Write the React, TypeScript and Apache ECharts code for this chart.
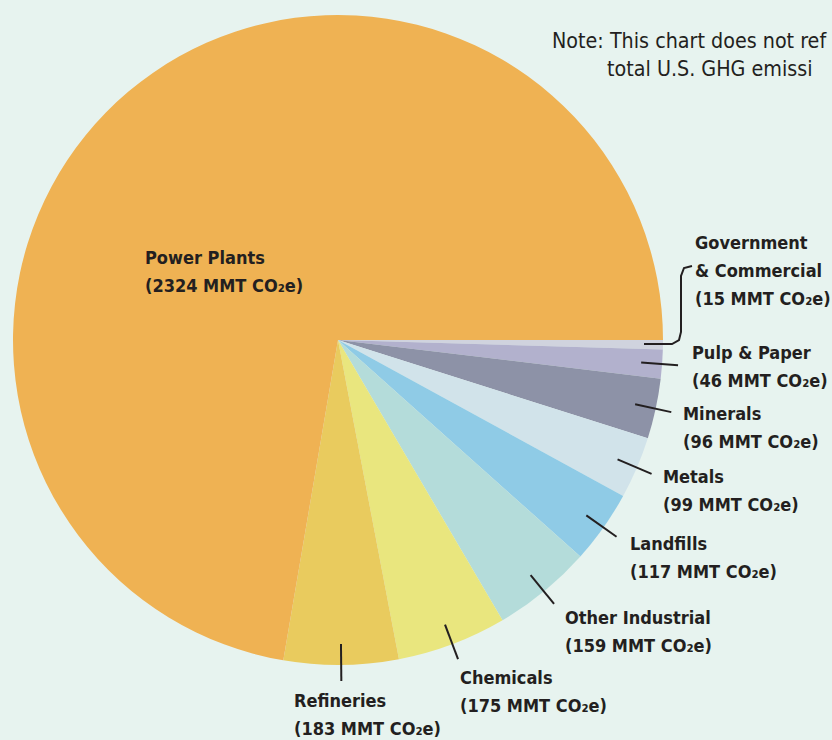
import React, { useEffect, useRef } from "react";
import * as echarts from "echarts";

const categories = [
  "Government\n& Commercial",
  "Pulp & Paper",
  "Minerals",
  "Metals",
  "Landfills",
  "Other Industrial",
  "Chemicals",
  "Refineries",
  "Power Plants",
];
const values = [15, 46, 96, 99, 117, 159, 175, 183, 2324];
const colors = [
  "#D0D3DE",
  "#B2B1CD",
  "#8D92A7",
  "#D1E3EA",
  "#8FCBE6",
  "#B4DCDA",
  "#E9E67E",
  "#E9CB5E",
  "#EFB253",
];
// the note is cut off at the right edge in the reference
const noteLines = ["Note: This chart does not ref", "total U.S. GHG emissi"];

// layout (positions only)
const CX = 338;
const CY = 340;
const R = 325;
const labelPos: [number, number][] = [
  [695, 228],
  [692, 338],
  [683, 399],
  [663, 462],
  [630, 529],
  [565, 603],
  [460, 663],
  [294, 686],
  [145, 243],
];

const FONT = "'DejaVu Sans Condensed', 'Liberation Sans Narrow', sans-serif";
const TEXT = "#231F20";

export default function App() {
  const ref = useRef<HTMLDivElement>(null);
  useEffect(() => {
    if (!ref.current) return;
    const chart = echarts.init(ref.current, null, { renderer: "svg" });
    const total = values.reduce((a, b) => a + b, 0);
    const mids: number[] = [];
    let acc = 0;
    values.forEach((v) => {
      mids.push(((acc + v / 2) / total) * Math.PI * 2);
      acc += v;
    });
    const pt = (a: number, r: number) => [CX + r * Math.cos(a), CY + r * Math.sin(a)];
    const base = {
      type: "pie",
      center: [CX, CY],
      radius: R,
      startAngle: 0,
      clockwise: true,
      avoidLabelOverlap: false,
      silent: true,
    };
    chart.setOption({
      animation: false,
      backgroundColor: "#E7F3EF",
      graphic: noteLines.map((t, i) => ({
        type: "text",
        left: i === 0 ? 552 : 607,
        top: i === 0 ? 30 : 58,
        style: { text: t, fontFamily: FONT, fontSize: 21.3, fill: TEXT, fontWeight: 500 },
      })),
      series: [
        {
          ...base,
          z: 2,
          data: categories.map((c, i) => ({
            name: c,
            value: values[i],
            itemStyle: { color: colors[i] },
          })),
          label: { show: false },
          labelLine: { show: false },
        },
        {
          ...base,
          z: 3,
          data: categories.map((c, i) => ({
            name: c,
            value: values[i],
            itemStyle: { color: "rgba(0,0,0,0)" },
            label: { position: i === 8 ? "inside" : "outside" },
            labelLine: { show: i !== 8 },
          })),
          label: {
            formatter: (p: any) => `${p.name}\n(${p.value} MMT CO₂e)`,
            fontFamily: FONT,
            fontWeight: "bold",
            fontSize: 18,
            lineHeight: 28,
            color: TEXT,
            align: "left",
          },
          labelLine: {
            show: true,
            lineStyle: { color: TEXT, width: 2 },
            smooth: false,
          },
          labelLayout: (params: any) => {
            const i = params.dataIndex;
            const [x, y] = labelPos[i];
            const res: any = { x, y, align: "left", verticalAlign: "top" };
            if (i < 8) {
              if (i === 0) {
                res.labelLinePoints = [
                  [644, 344],
                  [672, 344],
                  [679, 340],
                  [681, 332],
                  [681, 276],
                  [684, 268],
                  [692, 266],
                ];
              } else {
                res.labelLinePoints = [pt(mids[i], 304), pt(mids[i], 341), pt(mids[i], 341)];
              }
            }
            return res;
          },
        },
      ],
    });
    return () => chart.dispose();
  }, []);
  return (
    <div
      ref={ref}
      style={{ position: "fixed", left: 0, top: 0, width: 832, height: 740 }}
    />
  );
}
